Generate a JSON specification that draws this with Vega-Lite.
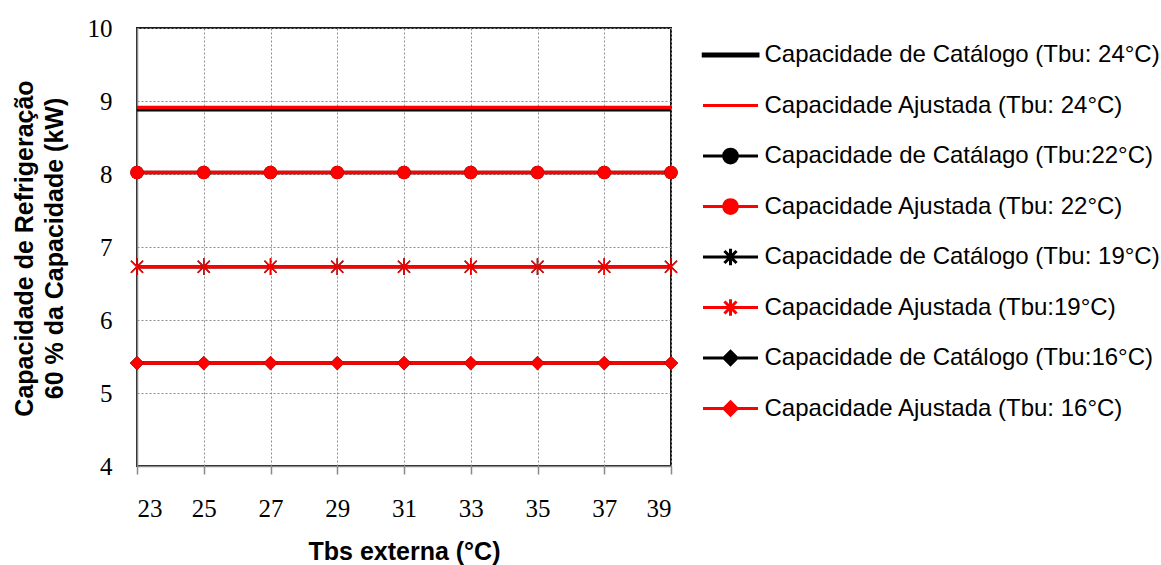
{
  "$schema": "https://vega.github.io/schema/vega-lite/v6.json",
  "width": 534,
  "height": 438,
  "autosize": "none",
  "padding": {"left": 137, "top": 28, "right": 490, "bottom": 99},
  "background": "white",
  "config": {
    "view": {"stroke": "#1a1a1a", "strokeWidth": 2},
    "axis": {
      "grid": true,
      "gridColor": "#8c8c8c",
      "gridDash": [2, 2],
      "gridWidth": 1,
      "domainColor": "#8a8a8a",
      "domainWidth": 1.5,
      "labelFont": "Liberation Serif",
      "labelFontSize": 25,
      "labelColor": "#000",
      "titleFont": "Liberation Sans",
      "titleFontWeight": "bold",
      "titleColor": "#000"
    }
  },
  "data": {
    "values": [
      {"serie": "Capacidade de Catálogo (Tbu: 24°C)", "tbs": 23, "cap": 8.88},
      {"serie": "Capacidade de Catálogo (Tbu: 24°C)", "tbs": 25, "cap": 8.88},
      {"serie": "Capacidade de Catálogo (Tbu: 24°C)", "tbs": 27, "cap": 8.88},
      {"serie": "Capacidade de Catálogo (Tbu: 24°C)", "tbs": 29, "cap": 8.88},
      {"serie": "Capacidade de Catálogo (Tbu: 24°C)", "tbs": 31, "cap": 8.88},
      {"serie": "Capacidade de Catálogo (Tbu: 24°C)", "tbs": 33, "cap": 8.88},
      {"serie": "Capacidade de Catálogo (Tbu: 24°C)", "tbs": 35, "cap": 8.88},
      {"serie": "Capacidade de Catálogo (Tbu: 24°C)", "tbs": 37, "cap": 8.88},
      {"serie": "Capacidade de Catálogo (Tbu: 24°C)", "tbs": 39, "cap": 8.88},
      {"serie": "Capacidade Ajustada (Tbu: 24°C)", "tbs": 23, "cap": 8.91},
      {"serie": "Capacidade Ajustada (Tbu: 24°C)", "tbs": 25, "cap": 8.91},
      {"serie": "Capacidade Ajustada (Tbu: 24°C)", "tbs": 27, "cap": 8.91},
      {"serie": "Capacidade Ajustada (Tbu: 24°C)", "tbs": 29, "cap": 8.91},
      {"serie": "Capacidade Ajustada (Tbu: 24°C)", "tbs": 31, "cap": 8.91},
      {"serie": "Capacidade Ajustada (Tbu: 24°C)", "tbs": 33, "cap": 8.91},
      {"serie": "Capacidade Ajustada (Tbu: 24°C)", "tbs": 35, "cap": 8.91},
      {"serie": "Capacidade Ajustada (Tbu: 24°C)", "tbs": 37, "cap": 8.91},
      {"serie": "Capacidade Ajustada (Tbu: 24°C)", "tbs": 39, "cap": 8.91},
      {"serie": "Capacidade de Catálago (Tbu:22°C)", "tbs": 23, "cap": 8.02},
      {"serie": "Capacidade de Catálago (Tbu:22°C)", "tbs": 25, "cap": 8.02},
      {"serie": "Capacidade de Catálago (Tbu:22°C)", "tbs": 27, "cap": 8.02},
      {"serie": "Capacidade de Catálago (Tbu:22°C)", "tbs": 29, "cap": 8.02},
      {"serie": "Capacidade de Catálago (Tbu:22°C)", "tbs": 31, "cap": 8.02},
      {"serie": "Capacidade de Catálago (Tbu:22°C)", "tbs": 33, "cap": 8.02},
      {"serie": "Capacidade de Catálago (Tbu:22°C)", "tbs": 35, "cap": 8.02},
      {"serie": "Capacidade de Catálago (Tbu:22°C)", "tbs": 37, "cap": 8.02},
      {"serie": "Capacidade de Catálago (Tbu:22°C)", "tbs": 39, "cap": 8.02},
      {"serie": "Capacidade Ajustada (Tbu: 22°C)", "tbs": 23, "cap": 8.02},
      {"serie": "Capacidade Ajustada (Tbu: 22°C)", "tbs": 25, "cap": 8.02},
      {"serie": "Capacidade Ajustada (Tbu: 22°C)", "tbs": 27, "cap": 8.02},
      {"serie": "Capacidade Ajustada (Tbu: 22°C)", "tbs": 29, "cap": 8.02},
      {"serie": "Capacidade Ajustada (Tbu: 22°C)", "tbs": 31, "cap": 8.02},
      {"serie": "Capacidade Ajustada (Tbu: 22°C)", "tbs": 33, "cap": 8.02},
      {"serie": "Capacidade Ajustada (Tbu: 22°C)", "tbs": 35, "cap": 8.02},
      {"serie": "Capacidade Ajustada (Tbu: 22°C)", "tbs": 37, "cap": 8.02},
      {"serie": "Capacidade Ajustada (Tbu: 22°C)", "tbs": 39, "cap": 8.02},
      {"serie": "Capacidade de Catálogo (Tbu: 19°C)", "tbs": 23, "cap": 6.73},
      {"serie": "Capacidade de Catálogo (Tbu: 19°C)", "tbs": 25, "cap": 6.73},
      {"serie": "Capacidade de Catálogo (Tbu: 19°C)", "tbs": 27, "cap": 6.73},
      {"serie": "Capacidade de Catálogo (Tbu: 19°C)", "tbs": 29, "cap": 6.73},
      {"serie": "Capacidade de Catálogo (Tbu: 19°C)", "tbs": 31, "cap": 6.73},
      {"serie": "Capacidade de Catálogo (Tbu: 19°C)", "tbs": 33, "cap": 6.73},
      {"serie": "Capacidade de Catálogo (Tbu: 19°C)", "tbs": 35, "cap": 6.73},
      {"serie": "Capacidade de Catálogo (Tbu: 19°C)", "tbs": 37, "cap": 6.73},
      {"serie": "Capacidade de Catálogo (Tbu: 19°C)", "tbs": 39, "cap": 6.73},
      {"serie": "Capacidade Ajustada (Tbu:19°C)", "tbs": 23, "cap": 6.73},
      {"serie": "Capacidade Ajustada (Tbu:19°C)", "tbs": 25, "cap": 6.73},
      {"serie": "Capacidade Ajustada (Tbu:19°C)", "tbs": 27, "cap": 6.73},
      {"serie": "Capacidade Ajustada (Tbu:19°C)", "tbs": 29, "cap": 6.73},
      {"serie": "Capacidade Ajustada (Tbu:19°C)", "tbs": 31, "cap": 6.73},
      {"serie": "Capacidade Ajustada (Tbu:19°C)", "tbs": 33, "cap": 6.73},
      {"serie": "Capacidade Ajustada (Tbu:19°C)", "tbs": 35, "cap": 6.73},
      {"serie": "Capacidade Ajustada (Tbu:19°C)", "tbs": 37, "cap": 6.73},
      {"serie": "Capacidade Ajustada (Tbu:19°C)", "tbs": 39, "cap": 6.73},
      {"serie": "Capacidade de Catálogo (Tbu:16°C)", "tbs": 23, "cap": 5.41},
      {"serie": "Capacidade de Catálogo (Tbu:16°C)", "tbs": 25, "cap": 5.41},
      {"serie": "Capacidade de Catálogo (Tbu:16°C)", "tbs": 27, "cap": 5.41},
      {"serie": "Capacidade de Catálogo (Tbu:16°C)", "tbs": 29, "cap": 5.41},
      {"serie": "Capacidade de Catálogo (Tbu:16°C)", "tbs": 31, "cap": 5.41},
      {"serie": "Capacidade de Catálogo (Tbu:16°C)", "tbs": 33, "cap": 5.41},
      {"serie": "Capacidade de Catálogo (Tbu:16°C)", "tbs": 35, "cap": 5.41},
      {"serie": "Capacidade de Catálogo (Tbu:16°C)", "tbs": 37, "cap": 5.41},
      {"serie": "Capacidade de Catálogo (Tbu:16°C)", "tbs": 39, "cap": 5.41},
      {"serie": "Capacidade Ajustada (Tbu: 16°C)", "tbs": 23, "cap": 5.41},
      {"serie": "Capacidade Ajustada (Tbu: 16°C)", "tbs": 25, "cap": 5.41},
      {"serie": "Capacidade Ajustada (Tbu: 16°C)", "tbs": 27, "cap": 5.41},
      {"serie": "Capacidade Ajustada (Tbu: 16°C)", "tbs": 29, "cap": 5.41},
      {"serie": "Capacidade Ajustada (Tbu: 16°C)", "tbs": 31, "cap": 5.41},
      {"serie": "Capacidade Ajustada (Tbu: 16°C)", "tbs": 33, "cap": 5.41},
      {"serie": "Capacidade Ajustada (Tbu: 16°C)", "tbs": 35, "cap": 5.41},
      {"serie": "Capacidade Ajustada (Tbu: 16°C)", "tbs": 37, "cap": 5.41},
      {"serie": "Capacidade Ajustada (Tbu: 16°C)", "tbs": 39, "cap": 5.41}
    ]
  },
  "encoding": {
    "x": {
      "field": "tbs",
      "type": "quantitative",
      "scale": {"domain": [23, 39], "nice": false, "zero": false},
      "axis": {
        "values": [23, 25, 27, 29, 31, 33, 35, 37, 39],
        "title": "Tbs externa (°C)",
        "titleFontSize": 25,
        "titlePadding": 18,
        "tickColor": "#8a8a8a",
        "tickSize": 8,
        "tickWidth": 1.5,
        "labelPadding": 22
      }
    },
    "y": {
      "field": "cap",
      "type": "quantitative",
      "scale": {"domain": [4, 10], "nice": false, "zero": false},
      "axis": {
        "values": [4, 5, 6, 7, 8, 9, 10],
        "ticks": false,
        "labelPadding": 25,
        "title": ["Capacidade de Refrigeração", "60 % da Capacidade (kW)"],
        "titleFontSize": 25,
        "titleLineHeight": 30,
        "titleAngle": 270,
        "titleBaseline": "top",
        "titleAlign": "center",
        "titleX": -125,
        "titleY": 220
      }
    },
    "color": {
      "field": "serie",
      "type": "nominal",
      "scale": {
        "domain": [
          "Capacidade de Catálogo (Tbu: 24°C)",
          "Capacidade Ajustada (Tbu: 24°C)",
          "Capacidade de Catálago (Tbu:22°C)",
          "Capacidade Ajustada (Tbu: 22°C)",
          "Capacidade de Catálogo (Tbu: 19°C)",
          "Capacidade Ajustada (Tbu:19°C)",
          "Capacidade de Catálogo (Tbu:16°C)",
          "Capacidade Ajustada (Tbu: 16°C)"
        ],
        "range": ["#000000", "#ff0000", "#000000", "#ff0000", "#000000", "#ff0000", "#000000", "#ff0000"]
      },
      "legend": {
        "title": null,
        "orient": "none",
        "legendX": 564.5,
        "legendY": 12,
        "padding": 0,
        "symbolSize": 3025,
        "symbolStrokeWidth": 3,
        "clipHeight": 30,
        "rowPadding": 20.5,
        "labelOffset": 5,
        "labelFont": "Liberation Sans",
        "labelFontSize": 24,
        "labelColor": "#000",
        "labelLimit": 0,
        "encode": {
          "symbols": {
            "update": {
              "shape": {"signal": "['M-1,-0.036H1V0.036H-1Z', 'M-1,0H1', 'M-1,0H1M-0.25,0A0.25,0.25,0,1,1,0.25,0A0.25,0.25,0,1,1,-0.25,0Z', 'M-1,0H1M-0.25,0A0.25,0.25,0,1,1,0.25,0A0.25,0.25,0,1,1,-0.25,0Z', 'M-1,0H1M0,-0.3V0.3M-0.22,-0.22L0.22,0.22M-0.22,0.22L0.22,-0.22', 'M-1,0H1M0,-0.3V0.3M-0.22,-0.22L0.22,0.22M-0.22,0.22L0.22,-0.22', 'M-1,0H1M0,-0.24L0.24,0L0,0.24L-0.24,0Z', 'M-1,0H1M0,-0.24L0.24,0L0,0.24L-0.24,0Z'][datum.index]"},
              "stroke": {"scale": "color", "field": "value"},
              "fill": {"scale": "color", "field": "value"},
              "opacity": {"value": 1}
            }
          }
        }
      }
    }
  },
  "layer": [
    {
      "transform": [{"filter": "indexof(datum.serie, 'Ajustada') < 0"}],
      "mark": {"type": "line", "strokeWidth": 3.5}
    },
    {
      "transform": [{"filter": "indexof(datum.serie, 'Ajustada') >= 0"}],
      "mark": {"type": "line", "strokeWidth": 3.5}
    },
    {
      "transform": [{"filter": "indexof(datum.serie, '22') >= 0"}],
      "mark": {"type": "point", "shape": "circle", "filled": true, "size": 180, "opacity": 1}
    },
    {
      "transform": [{"filter": "indexof(datum.serie, '16') >= 0"}],
      "mark": {"type": "point", "shape": "diamond", "filled": true, "size": 200, "opacity": 1}
    },
    {
      "transform": [{"filter": "indexof(datum.serie, '19') >= 0"}],
      "mark": {
        "type": "point",
        "shape": "M0,-1V1M-0.72,-0.72L0.72,0.72M-0.72,0.72L0.72,-0.72",
        "filled": false,
        "size": 280,
        "strokeWidth": 1.5,
        "opacity": 1
      }
    }
  ]
}
